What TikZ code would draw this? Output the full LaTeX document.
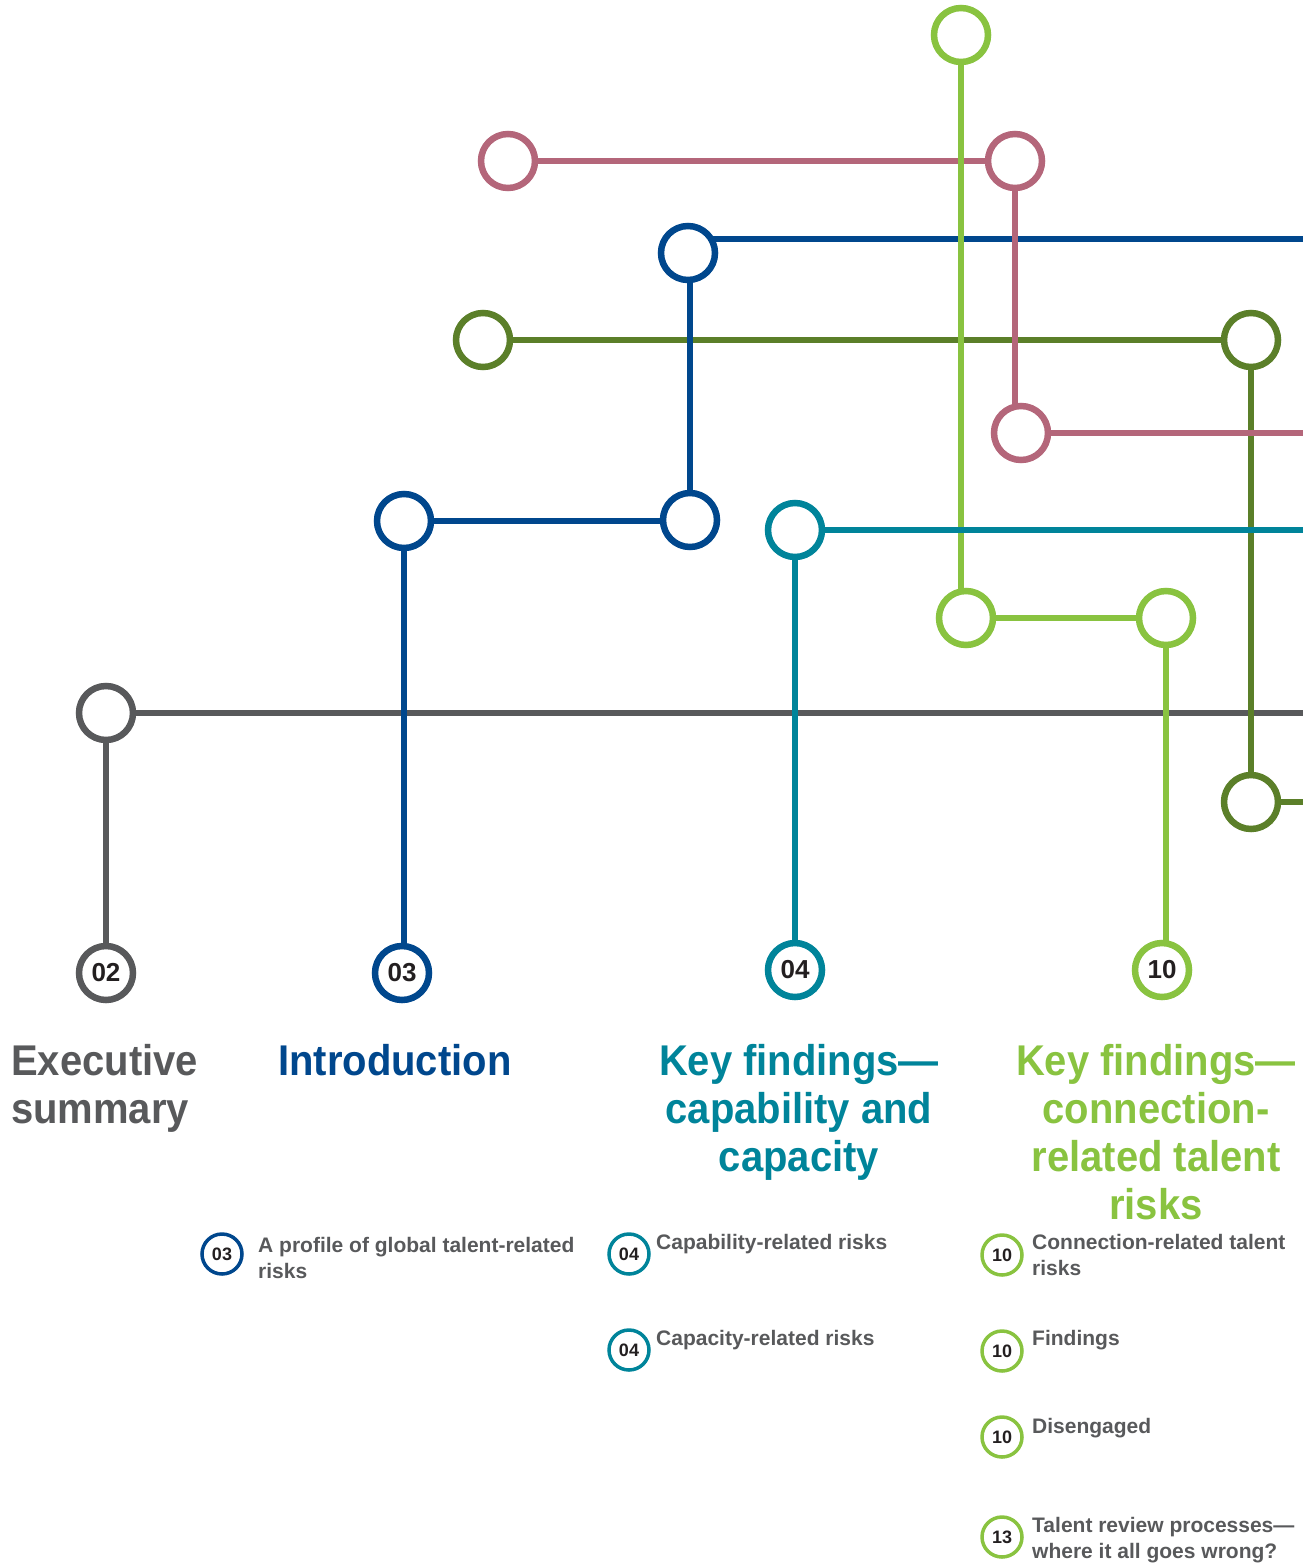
\documentclass[tikz,border=0pt]{standalone}
\usepackage{fontspec}
\setmainfont{Liberation Sans}
\newfontfamily\headfont{Liberation Sans}[FakeStretch=0.93]
\usetikzlibrary{backgrounds}

\definecolor{kgray}{RGB}{88,89,91}
\definecolor{kblue}{RGB}{0,71,141}
\definecolor{kteal}{RGB}{0,132,154}
\definecolor{klime}{RGB}{137,195,64}
\definecolor{kolive}{RGB}{91,127,41}
\definecolor{krose}{RGB}{180,102,122}
\definecolor{kdark}{RGB}{35,31,32}

\begin{document}
\begin{tikzpicture}
		[x=1pt,y=-1pt,
		stopring/.style= {circle,draw=#1,line width=6.5pt,fill=white,inner sep=0pt,minimum size=54pt},
		chapterring/.style= {stopring=#1,text=kdark,font=\bfseries\fontsize{26}{26}\selectfont},
		pagering/.style= {circle,draw=#1,line width=3.5pt,fill=white,inner sep=0pt,minimum size=40pt,text=kdark,font=\bfseries\fontsize{18}{18}\selectfont},
		trackline/.style= {draw=#1,line width=6.5pt},
		heading/.style= {text=#1,inner sep=0pt,font=\headfont\bfseries\fontsize{43}{48}\selectfont},
		entry/.style= {text=kgray,inner sep=0pt,anchor=north west,align=left,font=\bfseries\fontsize{21}{26}\selectfont}]
		
		\useasboundingbox (0,0) rectangle (1303,1568);
		
		% stations
		\node[stopring=kgray] (gr1) at (106,713) {};
		\node[stopring=kblue] (bA) at (404,521) {};
		\node[stopring=kblue] (bB) at (690,520) {};
		\node[stopring=kblue] (bC) at (688,253) {};
		\node[stopring=kolive] (dA) at (483,340) {};
		\node[stopring=kolive] (dB) at (1251,340) {};
		\node[stopring=kolive] (dC) at (1251,802) {};
		\node[stopring=krose] (pA) at (508,161) {};
		\node[stopring=krose] (pB) at (1015,161) {};
		\node[stopring=krose] (pC) at (1021,433) {};
		\node[stopring=klime] (gA) at (961,35) {};
		\node[stopring=klime] (gB) at (966,618) {};
		\node[stopring=klime] (gC) at (1166,618) {};
		\node[stopring=kteal] (tA) at (795,530) {};
		
		\coordinate (grEnd) at (1303,713);
		\coordinate (bEnd) at (1303,239);
		\coordinate (dEnd) at (1303,804);
		\coordinate (pEnd) at (1303,433);
		\coordinate (tEnd) at (1303,528);
		
		% chapters
		\node[chapterring=kgray] (n02) at (106,973) {02};
		\node[chapterring=kblue] (n03) at (402,973) {03};
		\node[chapterring=kteal] (n04) at (795,970) {04};
		\node[chapterring=klime] (n10) at (1162,970) {10};
		
		\node[heading=kgray,anchor=north west,align=left] (hExec) at (11,1044) {Executive\\summary};
		\node[heading=kblue,anchor=north west,align=left] (hIntro) at (278,1044) {Introduction};
		\node[heading=kteal,anchor=north,align=center] (hCap) at (799,1044) {Key findings—\\capability and\\capacity};
		\node[heading=klime,anchor=north,align=center] (hCon) at (1156,1044) {Key findings—\\connection-\\related talent\\risks};
		
		% pages
		\node[pagering=kblue] (p03) at (222,1254) {03};
		\node[entry] (e03) at (258,1237) {A profile of global talent-related\\risks};
		\node[pagering=kteal] (p04a) at (629,1254) {04};
		\node[entry] (e04a) at (656,1234) {Capability-related risks};
		\node[pagering=kteal] (p04b) at (629,1350) {04};
		\node[entry] (e04b) at (656,1330) {Capacity-related risks};
		\node[pagering=klime] (p10a) at (1002,1255) {10};
		\node[entry] (e10a) at (1032,1234) {Connection-related talent\\risks};
		\node[pagering=klime] (p10b) at (1002,1351) {10};
		\node[entry] (e10b) at (1032,1330) {Findings};
		\node[pagering=klime] (p10c) at (1002,1437) {10};
		\node[entry] (e10c) at (1032,1418) {Disengaged};
		\node[pagering=klime] (p13) at (1002,1537) {13};
		\node[entry] (e13) at (1032,1517) {Talent review processes—\\where it all goes wrong?};
		
		\begin{pgfonlayer}{background}
			\draw[trackline=kgray] (gr1) -- (n02);
			\draw[trackline=kgray] (gr1) -- (grEnd);
			
			\draw[trackline=kolive] (dA) -- (dB);
			\draw[trackline=kolive] (dB) -- (dC);
			\draw[trackline=kolive] (dC) -- (dC -| dEnd);
			
			\draw[trackline=kblue] (bA) -- (bA |- n03);
			\draw[trackline=kblue] (bA) -- (bA -| bB);
			\draw[trackline=kblue] (bB) -- (bB |- bC);
			\draw[trackline=kblue] (bC |- bEnd) -- (bEnd);
			
			\draw[trackline=krose] (pA) -- (pB);
			\draw[trackline=krose] (pB) -- (pB |- pC);
			\draw[trackline=krose] (pC) -- (pC -| pEnd);
			
			\draw[trackline=klime] (gA) -- (gA |- gB);
			\draw[trackline=klime] (gB) -- (gC);
			\draw[trackline=klime] (gC) -- (gC |- n10);
			
			\draw[trackline=kteal] (tA) -- (n04);
			\draw[trackline=kteal] (tA) -- (tA -| tEnd);
		\end{pgfonlayer}
		
	\end{tikzpicture}
\end{document}
